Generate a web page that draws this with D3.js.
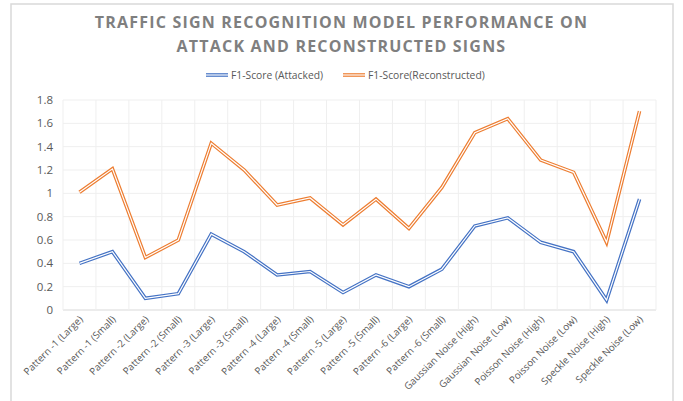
<!DOCTYPE html>
<html>
<head>
<meta charset="utf-8">
<script src="https://cdn.jsdelivr.net/npm/d3@7"></script>
<style>
  body { margin: 0; background: #fff; }
  svg { display: block; font-family: "Open Sans", "Noto Sans", sans-serif; }
</style>
</head>
<body>
<div id="chart"></div>
<script>
// Categories along the x axis
const categories = [
  'Pattern -1 (Large)', 'Pattern -1 (Small)', 'Pattern -2 (Large)', 'Pattern -2 (Small)',
  'Pattern -3 (Large)', 'Pattern -3 (Small)', 'Pattern -4 (Large)', 'Pattern -4 (Small)',
  'Pattern -5 (Large)', 'Pattern -5 (Small)', 'Pattern -6 (Large)', 'Pattern -6 (Small)',
  'Gaussian Noise (High)', 'Gaussian Noise (Low)', 'Poisson Noise (High)', 'Poisson Noise (Low)',
  'Speckle Noise (High)', 'Speckle Noise (Low)'
];

// Series values
const attacked = [0.40, 0.50, 0.10, 0.14, 0.65, 0.50, 0.30, 0.33, 0.15, 0.30, 0.20, 0.35,
  0.72, 0.79, 0.58, 0.50, 0.085, 0.95];
const reconstructed = [1.01, 1.21, 0.45, 0.60, 1.43, 1.20, 0.90, 0.96, 0.73, 0.95, 0.70, 1.05,
  1.52, 1.64, 1.285, 1.18, 0.58, 1.705];

const seriesNames = ['F1-Score (Attacked)', 'F1-Score(Reconstructed)'];
const seriesColors = ['#4472c4', '#ed7d31'];
const yTicks = [0, 0.2, 0.4, 0.6, 0.8, 1, 1.2, 1.4, 1.6, 1.8];

const width = 683, height = 401;
const margin = { top: 100, right: 27, bottom: 91, left: 63 };

const svg = d3.select('#chart').append('svg')
  .attr('width', width)
  .attr('height', height);

// Chart frame
svg.append('rect')
  .attr('x', 11).attr('y', 4)
  .attr('width', 662).attr('height', 420)
  .attr('fill', '#fff')
  .attr('stroke', '#d9d9d9')
  .attr('stroke-width', 1.5);

// Title
const title = svg.append('text')
  .attr('text-anchor', 'middle')
  .attr('fill', '#7f7f7f')
  .style('font-size', '16px')
  .style('font-weight', 'bold')
  .style('letter-spacing', '1.2px');
title.append('tspan').attr('x', width / 2).attr('y', 28)
  .text('TRAFFIC SIGN RECOGNITION MODEL PERFORMANCE ON');
title.append('tspan').attr('x', width / 2).attr('y', 52)
  .text('ATTACK AND RECONSTRUCTED SIGNS');

const x = d3.scaleBand()
  .domain(categories)
  .range([margin.left, width - margin.right]);

const y = d3.scaleLinear()
  .domain([0, 1.8])
  .range([height - margin.bottom, margin.top]);

// Gridlines
const grid = svg.append('g');
grid.selectAll('line.h')
  .data(yTicks)
  .enter().append('line')
  .attr('x1', margin.left).attr('x2', width - margin.right)
  .attr('y1', d => y(d)).attr('y2', d => y(d))
  .attr('stroke', d => d === 0 ? '#d9d9d9' : '#efefef')
  .attr('stroke-width', 1);

const vEdges = categories.map(c => x(c)).concat([width - margin.right]);
grid.selectAll('line.v')
  .data(vEdges)
  .enter().append('line')
  .attr('x1', d => d).attr('x2', d => d)
  .attr('y1', y(0)).attr('y2', y(1.8))
  .attr('stroke', '#efefef')
  .attr('stroke-width', 1);

// Y axis labels
svg.append('g')
  .selectAll('text')
  .data(yTicks)
  .enter().append('text')
  .attr('x', margin.left - 10)
  .attr('y', d => y(d))
  .attr('dy', '0.35em')
  .attr('text-anchor', 'end')
  .attr('fill', '#595959')
  .style('font-size', '11.5px')
  .text(d => d3.format('~g')(d));

// X axis labels, rotated
svg.append('g')
  .selectAll('text')
  .data(categories)
  .enter().append('text')
  .attr('text-anchor', 'end')
  .attr('fill', '#595959')
  .style('font-size', '9.8px')
  .attr('transform', d => 'translate(' + (x(d) + x.bandwidth() / 2 + 4) + ',' + (y(0) + 10) + ') rotate(-45)')
  .text(d => d);

// Lines drawn as a double stroke: coloured band with a thin white core
const line = d3.line()
  .x((d, i) => x(categories[i]) + x.bandwidth() / 2)
  .y(d => y(d));

const series = [attacked, reconstructed];
series.forEach(function (values, i) {
  svg.append('path')
    .datum(values)
    .attr('d', line)
    .attr('fill', 'none')
    .attr('stroke', seriesColors[i])
    .attr('stroke-width', 3.6)
    .attr('stroke-linejoin', 'miter');
  svg.append('path')
    .datum(values)
    .attr('d', line)
    .attr('fill', 'none')
    .attr('stroke', '#fff')
    .attr('stroke-width', 1.2)
    .attr('stroke-linejoin', 'miter');
});

// Legend
const legendItems = [
  { name: seriesNames[0], color: seriesColors[0], x: 206 },
  { name: seriesNames[1], color: seriesColors[1], x: 343 }
];
const legend = svg.append('g');
legendItems.forEach(function (item) {
  legend.append('line')
    .attr('x1', item.x).attr('x2', item.x + 22)
    .attr('y1', 75).attr('y2', 75)
    .attr('stroke', item.color)
    .attr('stroke-width', 3.6);
  legend.append('line')
    .attr('x1', item.x).attr('x2', item.x + 22)
    .attr('y1', 75).attr('y2', 75)
    .attr('stroke', '#fff')
    .attr('stroke-width', 1.2);
  legend.append('text')
    .attr('x', item.x + 25)
    .attr('y', 75)
    .attr('dy', '0.35em')
    .attr('fill', '#595959')
    .style('font-size', '10.3px')
    .text(item.name);
});
</script>
</body>
</html>
